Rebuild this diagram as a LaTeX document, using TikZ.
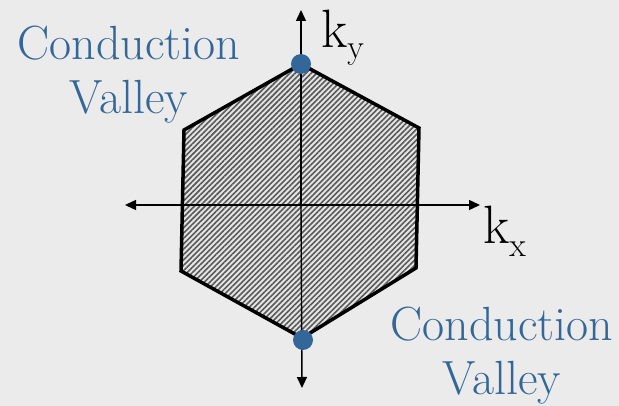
\documentclass[tikz,border=0pt]{standalone}
\usetikzlibrary{arrows.meta,patterns.meta}
\definecolor{bg}{RGB}{235,235,235}
\definecolor{valley}{RGB}{51,102,153}
\tikzset{
  axis/.style={line width=1.4pt,-{Triangle[length=11pt,width=10pt]}},
  hexfill/.style={fill=white!90!black,
    postaction={pattern={Lines[angle=45,distance=3.8pt,line width=1.6pt]},pattern color=black!65}},
  hexline/.style={line width=3.5pt,line join=miter},
  dotn/.style={circle,fill=valley,minimum size=20pt,inner sep=0pt},
  lbl/.style={text=valley,font=\fontsize{48}{54}\selectfont,align=center,inner sep=0pt},
  klbl/.style={font=\fontsize{54}{58}\selectfont,inner sep=0pt,anchor=base west}
}
\begin{document}
\begin{tikzpicture}[x=1pt,y=-1pt]
\useasboundingbox[fill=bg] (0,0) rectangle (619,406);
\coordinate (t) at (301,64);
\coordinate (ur) at (419,128);
\coordinate (lr) at (416,268);
\coordinate (b) at (302,338);
\coordinate (ll) at (181,271);
\coordinate (ul) at (184,130);
\path[hexfill] (t) -- (ur) -- (lr) -- (b) -- (ll) -- (ul) -- cycle;
\draw[hexline] (t) -- (ur) -- (lr) -- (b) -- (ll) -- (ul) -- cycle;
\coordinate (xl) at (125,205);
\coordinate (xr) at (480,205);
\coordinate (yt) at (301,10);
\coordinate (yb) at (302,388);
\coordinate (o) at (301,205);
\draw[axis] (o) -- (xr);
\draw[axis] (o) -- (xl);
\draw[axis] (o) -- (yt);
\draw[axis] (o) -- (yb);
\node[dotn] (dt) at (t) {};
\node[dotn] (db) at (303,340) {};
\node[klbl] (ky) at (321,48) {k\raisebox{-11pt}{\fontsize{34}{34}\selectfont y}};
\node[klbl] (kx) at (483,244) {k\raisebox{-13pt}{\fontsize{34}{34}\selectfont x}};
\node[lbl] (cv1) at (129,75) {Conduction\\Valley};
\node[lbl] (cv2) at (502,356) {Conduction\\Valley};
\end{tikzpicture}
\end{document}
